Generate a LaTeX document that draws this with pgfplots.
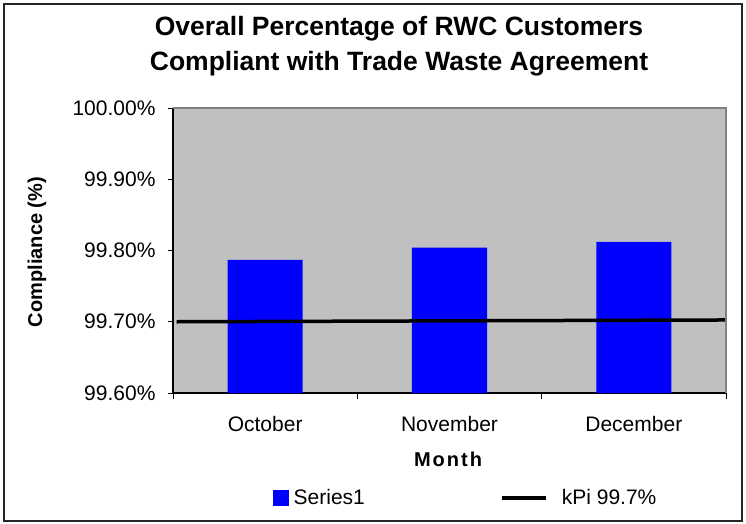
\documentclass[border=0pt]{standalone}
\usepackage{fontspec}
\setmainfont{Liberation Sans}
\usepackage{pgfplots}
\pgfplotsset{compat=1.18}
\definecolor{plotgray}{HTML}{C0C0C0}
\definecolor{framegray}{HTML}{808080}
\begin{document}
\begin{tikzpicture}[x=1pt,y=1pt]
\path[use as bounding box] (0,0) rectangle (746,523);
\draw[line width=1.5pt, black!85] (4,2) rectangle (742,519);
\begin{axis}[
  at={(173pt,130pt)}, anchor=south west,
  scale only axis, width=553pt, height=285pt,
  xmin=-0.5, xmax=2.5, ymin=99.6, ymax=100,
  axis background/.style={fill=plotgray},
  axis x line*=bottom, axis y line*=left,
  axis line style={line width=1.2pt, black},
  xtick={0,1,2}, xticklabels={October,November,December},
  major x tick style={draw=none},
  minor xtick={-0.5,0.5,1.5,2.5},
  ytick={99.6,99.7,99.8,99.9,100},
  yticklabels={99.60\%,99.70\%,99.80\%,99.90\%,100.00\%},
  tick align=outside, major tick length=5pt, minor tick length=6pt,
  tick style={black, line width=1pt},
  ticklabel style={font=\fontsize{21}{24}\selectfont},
  xticklabel style={yshift=-15pt},
  yticklabel style={xshift=-9pt},
  title={Overall Percentage of RWC Customers\\Compliant with Trade Waste Agreement},
  title style={at={(axis description cs:0.4087,1.196)}, anchor=center, align=center,
    font=\fontsize{26.5}{35}\selectfont\bfseries},
  xlabel={Month},
  xlabel style={at={(axis description cs:0.4973,-0.2333)}, anchor=center,
    font=\fontsize{20}{24}\selectfont\bfseries\addfontfeature{LetterSpace=10}},
  ylabel={Compliance (\%)},
  ylabel style={at={(axis description cs:-0.2459,0.4947)}, anchor=center, rotate=0,
    font=\fontsize{20}{24}\selectfont\bfseries},
  extra description/.code={
    \draw[framegray, line width=1.2pt] (axis description cs:0,1) -- (axis description cs:1,1) -- (axis description cs:1,0);
  },
  legend style={at={(axis description cs:0.529,-0.368)}, anchor=center,
    draw=none, fill=none, legend columns=2,
    font=\fontsize{21}{24}\selectfont,
    nodes={inner sep=2pt},
    /tikz/every even column/.append style={column sep=133.5pt}},
]
\addplot[ybar, fill=blue, draw=none, bar width=0.407,
  legend image code/.code={\fill[blue] (0pt,-8pt) rectangle (16pt,8pt); \path (19pt,0pt);}]
  coordinates {(0,99.787) (1,99.804) (2,99.812)};
\addlegendentry{Series1}
\addplot[black, line width=3.5pt,
  legend image code/.code={\draw[black, line width=3.5pt] (0pt,0pt) -- (44pt,0pt); \path (56pt,0pt);}]
  coordinates {(-0.48,99.700) (2.5,99.7025)};
\addlegendentry{kPi 99.7\%}
\end{axis}
\end{tikzpicture}
\end{document}
